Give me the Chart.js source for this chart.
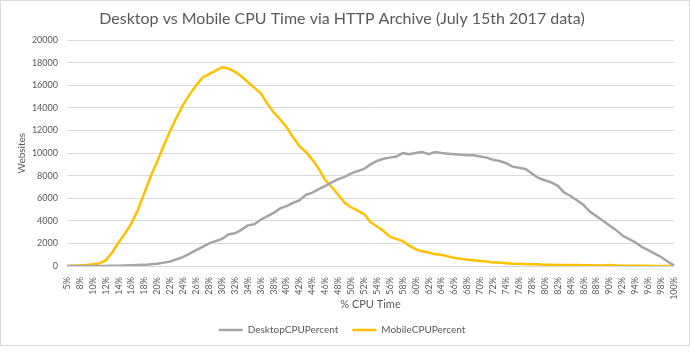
<!DOCTYPE html>
<html>
<head>
<meta charset="utf-8">
<script src="https://cdn.jsdelivr.net/npm/chart.js@4/dist/chart.umd.min.js"></script>
<style>
  html, body { margin: 0; padding: 0; background: #fff; }
  #wrap { width: 690px; height: 351px; }
</style>
</head>
<body>
<div id="wrap"><canvas id="cpu-chart" width="690" height="351"></canvas></div>
<script>
// % CPU time buckets (6% missing from the source data)
const cpuPercents = [5, 7, 8, 9, 10, 11, 12, 13, 14, 15, 16, 17, 18, 19, 20, 21, 22, 23, 24, 25,
    26, 27, 28, 29, 30, 31, 32, 33, 34, 35, 36, 37, 38, 39, 40, 41, 42, 43, 44, 45,
    46, 47, 48, 49, 50, 51, 52, 53, 54, 55, 56, 57, 58, 59, 60, 61, 62, 63, 64, 65,
    66, 67, 68, 69, 70, 71, 72, 73, 74, 75, 76, 77, 78, 79, 80, 81, 82, 83, 84, 85,
    86, 87, 88, 89, 90, 91, 92, 93, 94, 95, 96, 97, 98, 99, 100];

const desktopSites = [0, 0, 0, 0, 0, 10, 10, 20, 30, 40, 60, 80, 100, 150, 200, 300, 400, 600, 800, 1100,
    1400, 1700, 2000, 2200, 2400, 2800, 2900, 3200, 3600, 3700, 4100, 4400, 4700, 5100, 5300, 5600, 5800, 6300, 6500, 6800,
    7100, 7400, 7700, 7900, 8200, 8400, 8600, 9000, 9300, 9500, 9600, 9700, 10000, 9900, 10000, 10100, 9900, 10100, 10000, 9950,
    9900, 9850, 9800, 9800, 9700, 9600, 9400, 9300, 9100, 8800, 8700, 8600, 8200, 7800, 7600, 7400, 7100, 6500, 6200, 5800,
    5400, 4800, 4400, 4000, 3600, 3200, 2700, 2400, 2100, 1700, 1400, 1100, 800, 400, 50];

const mobileSites = [0, 20, 50, 80, 150, 250, 500, 1200, 2100, 2900, 3800, 5000, 6500, 8000, 9300, 10700, 12000, 13200, 14300, 15200,
    16000, 16700, 17000, 17300, 17600, 17500, 17200, 16800, 16300, 15800, 15300, 14400, 13600, 13000, 12300, 11400, 10600, 10100, 9400, 8600,
    7600, 7000, 6300, 5600, 5200, 4900, 4600, 3900, 3500, 3100, 2600, 2400, 2200, 1800, 1500, 1300, 1200, 1050, 1000, 850,
    700, 650, 550, 500, 450, 400, 300, 300, 250, 200, 200, 150, 150, 150, 100, 100, 80, 80, 80, 80,
    60, 60, 50, 50, 80, 40, 30, 30, 20, 20, 20, 10, 10, 10, 0];

const labels = cpuPercents.map((p) => p + '%');
const textColor = '#595959';
const gridColor = '#d9d9d9';
const fontFamily = 'Lato, "Open Sans", sans-serif';

const chartBorder = {
    id: 'chartBorder',
    afterDraw(chart) {
        const c = chart.ctx;
        c.save();
        c.strokeStyle = '#d9d9d9';
        c.lineWidth = 1;
        c.strokeRect(0.5, 0.5, chart.width - 1, 345);
        c.restore();
    }
};

const ctx = document.getElementById('cpu-chart');
new Chart(ctx, {
    type: 'line',
    data: {
        labels: labels,
        datasets: [{
            label: 'DesktopCPUPercent',
            data: desktopSites,
            borderColor: '#a5a5a5',
            backgroundColor: '#a5a5a5',
            borderWidth: 2.5,
            pointRadius: 0,
            tension: 0
        }, {
            label: 'MobileCPUPercent',
            data: mobileSites,
            borderColor: '#ffc000',
            backgroundColor: '#ffc000',
            borderWidth: 2.5,
            pointRadius: 0,
            tension: 0
        }]
    },
    options: {
        responsive: false,
        animation: false,
        devicePixelRatio: 1,
        layout: { padding: { left: 10, right: 16, top: 7, bottom: 6 } },
        plugins: {
            title: {
                display: true,
                text: 'Desktop vs Mobile CPU Time via HTTP Archive (July 15th 2017 data)',
                color: textColor,
                font: { family: fontFamily, size: 16, weight: 'normal' },
                padding: { top: 2, bottom: 12 }
            },
            legend: {
                position: 'bottom',
                labels: {
                    color: textColor,
                    font: { family: fontFamily, size: 10 },
                    usePointStyle: true,
                    pointStyle: 'line',
                    pointStyleWidth: 24,
                    boxHeight: 8,
                    padding: 14
                }
            },
            tooltip: { enabled: false }
        },
        scales: {
            x: {
                offset: false,
                grid: { display: false },
                border: { color: gridColor, width: 1 },
                ticks: {
                    autoSkip: false,
                    maxRotation: 90,
                    minRotation: 90,
                    color: textColor,
                    font: { family: fontFamily, size: 9 },
                    padding: 3,
                    callback: function (value, index) {
                        return index % 2 === 0 ? this.getLabelForValue(value) : '';
                    }
                },
                title: {
                    display: true,
                    text: '% CPU Time',
                    color: textColor,
                    font: { family: fontFamily, size: 11 },
                    padding: { top: 2, bottom: 0 }
                },
                afterFit: (scale) => { scale.height = 45; }
            },
            y: {
                min: 0,
                max: 20000,
                grid: { color: gridColor, drawTicks: false },
                border: { display: false },
                ticks: {
                    stepSize: 2000,
                    color: textColor,
                    font: { family: fontFamily, size: 9 },
                    padding: 9,
                    callback: (value) => String(value)
                },
                title: {
                    display: true,
                    text: 'Websites',
                    color: textColor,
                    font: { family: fontFamily, size: 10 },
                    padding: { top: 6, bottom: 0 }
                },
                afterFit: (scale) => { scale.width = 57; }
            }
        }
    },
    plugins: [chartBorder]
});
</script>
</body>
</html>
